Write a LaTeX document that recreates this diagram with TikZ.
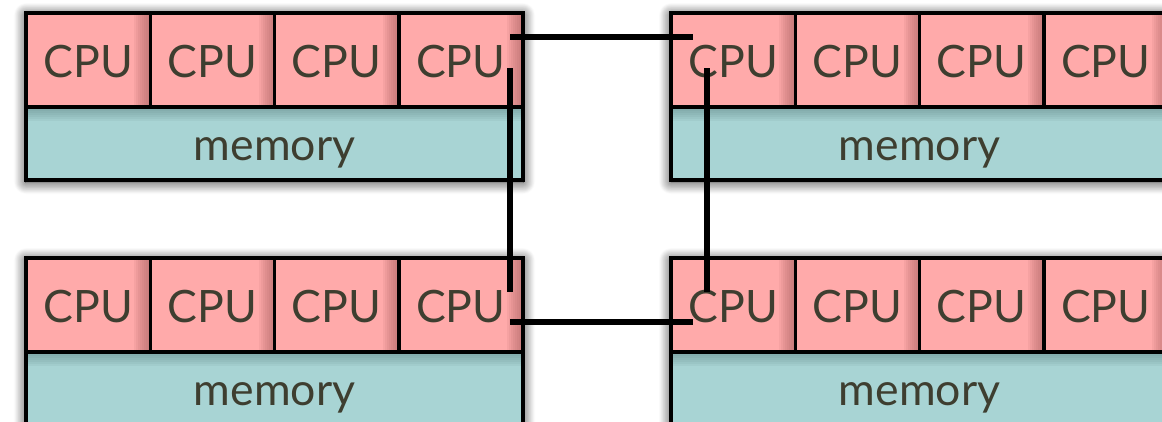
\documentclass[tikz,border=0pt]{standalone}
\usepackage{fontspec}
\setmainfont{Lato}
\usetikzlibrary{shadows.blur}
\definecolor{cpufill}{HTML}{FFAAAA}
\definecolor{cpudark}{HTML}{A05858}
\definecolor{memfill}{HTML}{A8D4D4}
\definecolor{memdark}{HTML}{4F7878}
\definecolor{txt}{HTML}{3E3E30}
\tikzset{
  cpubox/.style={draw=black, line width=3.5pt, fill=cpufill, anchor=north west,
    minimum width=124.25pt, minimum height=94pt, inner sep=0pt, outer sep=0pt,
    text=txt, font=\fontsize{44.6}{50}\selectfont, text height=34pt, text depth=0pt,
    path picture={\foreach \k in {1,...,8}{\fill[cpudark, opacity=0.09]
      ([xshift=-2*\k pt]path picture bounding box.north east) rectangle (path picture bounding box.south east);}}},
  membox/.style={draw=black, line width=3.5pt, fill=memfill, anchor=north west,
    minimum width=497pt, minimum height=73pt, inner sep=0pt, outer sep=0pt,
    text=txt, font=\fontsize{44.6}{50}\selectfont, text height=34pt, text depth=0pt,
    path picture={\foreach \k in {1,...,7}{\fill[memdark, opacity=0.08]
      (path picture bounding box.north west) rectangle ([yshift=-2*\k pt]path picture bounding box.north east);}}},
  groupshadow/.style={blur shadow={shadow xshift=0pt, shadow yshift=-2pt, shadow blur radius=12pt, shadow blur steps=14, shadow opacity=85}},
  link/.style={draw=black, line width=5.5pt}
}
\newcommand\mycpugroup[3]{%
  \path[groupshadow, fill=white] (#2,#3) rectangle ++(497,167);
  \node[membox] (#1m) at (#2,#3+94) {memory};
  \foreach \i in {1,...,4} {
    \node[cpubox] (#1c\i) at ({#2+(\i-1)*124.25},#3) {CPU};
  }
}
\begin{document}
\begin{tikzpicture}[x=1pt,y=-1pt]
\useasboundingbox (0,0) rectangle (1162,421);
\mycpugroup{tl}{26}{13}
\mycpugroup{bl}{26}{258}
\mycpugroup{tr}{671}{13}
\mycpugroup{br}{671}{258}
% connector end points inside the CPU boxes
\coordinate (ta) at (510,37);
\coordinate (tb) at (693,37);
\coordinate (la) at (510,68);
\coordinate (lb) at (510,292);
\coordinate (ra) at (707,68);
\coordinate (rb) at (707,292);
\coordinate (ba) at (510,322);
\coordinate (bb) at (693,322);
\draw[link] (ta) -- (tb);
\draw[link] (la) -- (lb);
\draw[link] (ra) -- (rb);
\draw[link] (ba) -- (bb);
\end{tikzpicture}
\end{document}
